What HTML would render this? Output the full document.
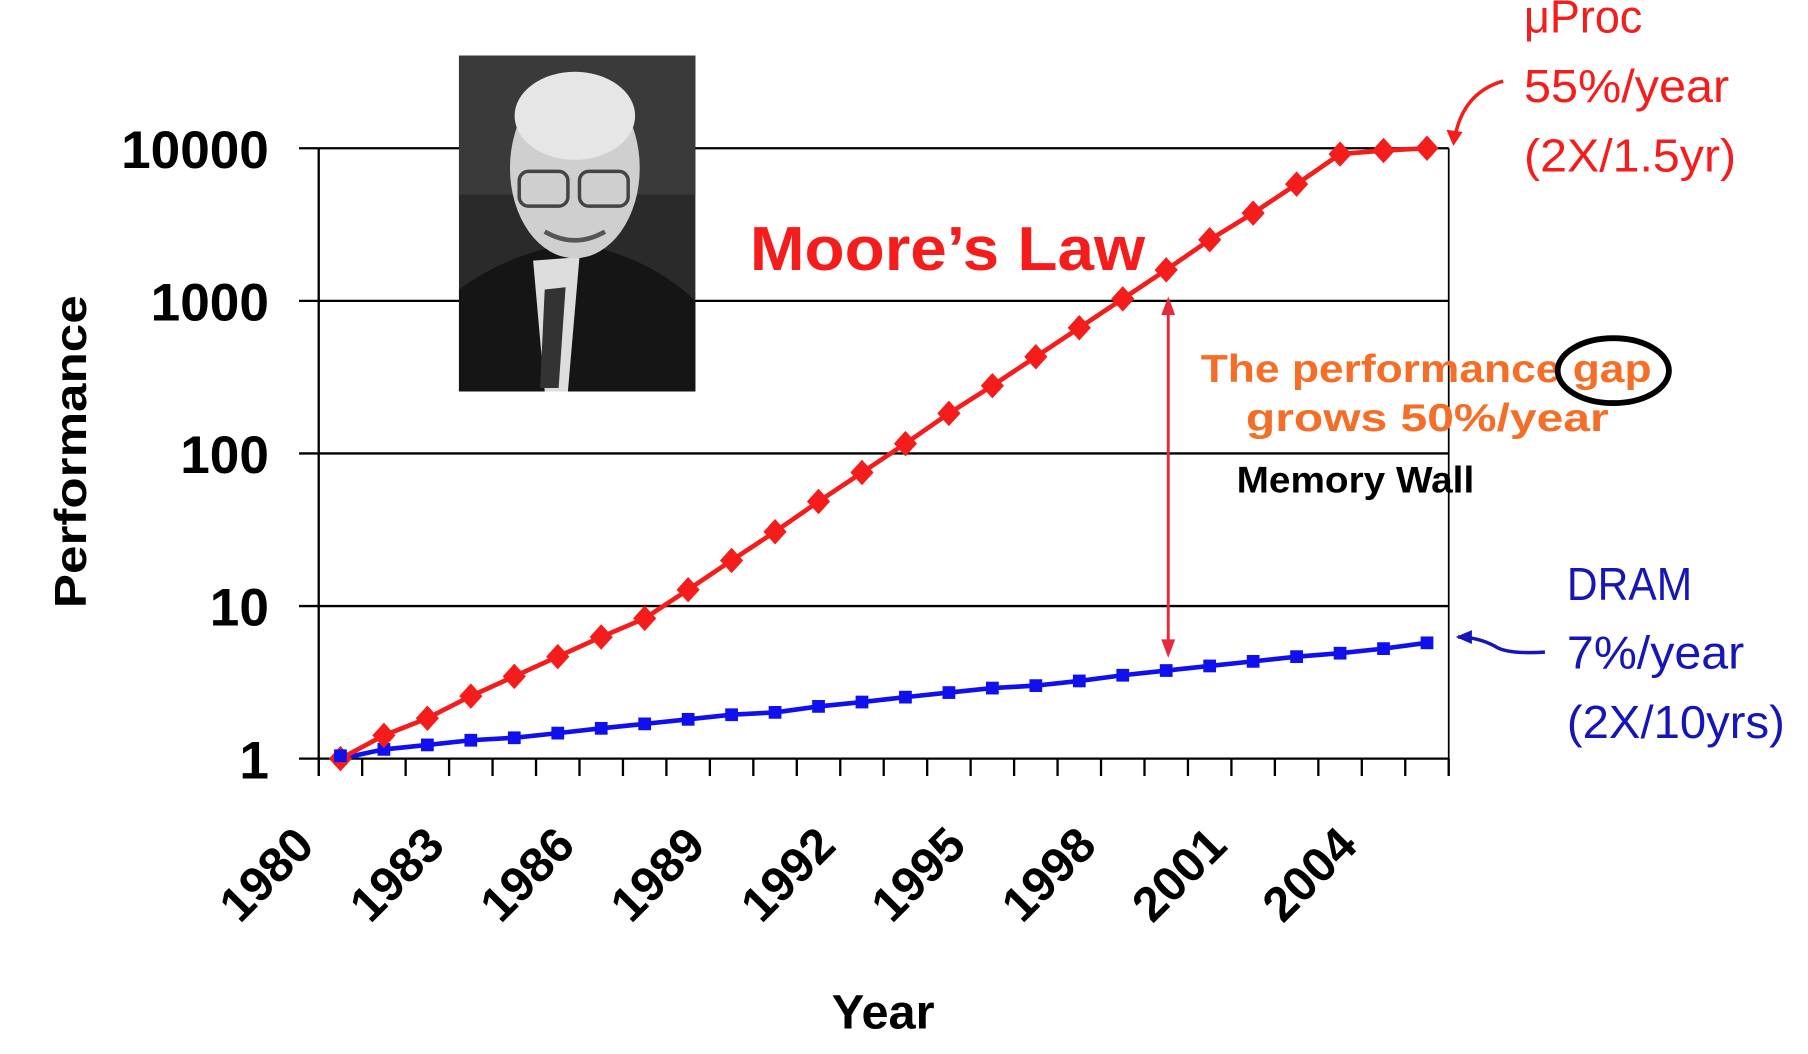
<!DOCTYPE html>
<html><head><meta charset="utf-8"><style>
html,body{margin:0;padding:0;background:#fff;}
svg{display:block;}
text{font-family:"Liberation Sans",sans-serif;}
</style></head><body>
<svg id="chart" width="1808" height="1054" viewBox="0 0 1560 910" preserveAspectRatio="none" xmlns="http://www.w3.org/2000/svg">
<g id="grid"></g>
<g id="photo">
  <rect x="396" y="48" width="204" height="290" fill="#2a2a2a"/>
  <rect x="396" y="48" width="204" height="120" fill="#3a3a3a"/>
  <path d="M396 338 L396 250 Q430 225 470 215 L520 215 Q570 230 600 260 L600 338 Z" fill="#151515"/>
  <path d="M460 225 L500 222 L490 338 L470 338 Z" fill="#ddd"/>
  <path d="M470 250 L488 248 L482 335 L466 335 Z" fill="#333"/>
  <ellipse cx="496" cy="145" rx="56" ry="78" fill="#cfcfcf"/>
  <ellipse cx="496" cy="100" rx="52" ry="38" fill="#e6e6e6"/>
  <rect x="448" y="148" width="42" height="30" rx="8" fill="none" stroke="#444" stroke-width="3"/>
  <rect x="500" y="148" width="42" height="30" rx="8" fill="none" stroke="#444" stroke-width="3"/>
  <path d="M470 200 Q496 215 522 200" fill="none" stroke="#555" stroke-width="4"/>
</g>
<g id="series"></g>
<g id="labels">
  <text x="647" y="233" font-size="54" font-weight="bold" fill="#f51c1c" textLength="341" lengthAdjust="spacingAndGlyphs">Moore’s Law</text>
  <text x="1315" y="28" font-size="40" fill="#f51c1c" textLength="102" lengthAdjust="spacingAndGlyphs">μProc</text>
  <text x="1315" y="88" font-size="40" fill="#f51c1c" textLength="177" lengthAdjust="spacingAndGlyphs">55%/year</text>
  <text x="1315" y="148" font-size="40" fill="#f51c1c" textLength="183" lengthAdjust="spacingAndGlyphs">(2X/1.5yr)</text>
  <text x="1352" y="518" font-size="40" fill="#1616b8" textLength="108" lengthAdjust="spacingAndGlyphs">DRAM</text>
  <text x="1352" y="577" font-size="40" fill="#1616b8" textLength="153" lengthAdjust="spacingAndGlyphs">7%/year</text>
  <text x="1352" y="637" font-size="40" fill="#1616b8" textLength="188" lengthAdjust="spacingAndGlyphs">(2X/10yrs)</text>
  <text x="1036" y="330" font-size="34" font-weight="bold" fill="#f46e28" textLength="389" lengthAdjust="spacingAndGlyphs">The performance gap</text>
  <text x="1075" y="372" font-size="34" font-weight="bold" fill="#f46e28" textLength="313" lengthAdjust="spacingAndGlyphs">grows 50%/year</text>
  <ellipse cx="1392" cy="320" rx="48" ry="28" fill="none" stroke="#000" stroke-width="5"/>
  <text x="1067" y="425" font-size="32" font-weight="bold" fill="#000" textLength="205" lengthAdjust="spacingAndGlyphs">Memory Wall</text>
  <text transform="translate(74,390) rotate(-90)" text-anchor="middle" font-size="38" font-weight="bold" textLength="270" lengthAdjust="spacingAndGlyphs">Performance</text>
  <text x="762" y="888" text-anchor="middle" font-size="42" font-weight="bold">Year</text>
  <line x1="1008" y1="262" x2="1008" y2="562" stroke="#e8283c" stroke-width="2.5"/>
  <path d="M1002 272 L1008 256 L1014 272 Z M1002 552 L1008 568 L1014 552 Z" fill="#e8283c"/>
  <path d="M1297 70 Q1262 80 1255 120" fill="none" stroke="#f51c1c" stroke-width="3"/>
  <path d="M1248 112 L1254 126 L1262 114 Z" fill="#f51c1c"/>
  <path d="M1333 563 Q1300 565 1290 558 Q1275 550 1258 550" fill="none" stroke="#1616b8" stroke-width="3"/>
  <path d="M1270 544 L1256 550 L1270 556 Z" fill="#1616b8"/>
</g>
</svg>
<script>
const years = [1980,1981,1982,1983,1984,1985,1986,1987,1988,1989,1990,1991,1992,1993,1994,1995,1996,1997,1998,1999,2000,2001,2002,2003,2004,2005];
const procValues = [1,1.42,1.84,2.57,3.46,4.66,6.27,8.3,12.8,19.9,30.7,48.4,75,116,183,278,430,666,1031,1596,2513,3758,5818,9160,9660,10000];
const dramValues = [1,1.15,1.23,1.32,1.37,1.47,1.58,1.69,1.81,1.94,2.01,2.2,2.35,2.53,2.71,2.9,3.01,3.23,3.52,3.78,4.05,4.34,4.66,4.91,5.26,5.74];
const yTicks = [1,10,100,1000,10000];
const xTickLabels = [1980,1983,1986,1989,1992,1995,1998,2001,2004];

const NS = "http://www.w3.org/2000/svg";
const L = 275, R = 1250, T = 128, B = 655;
const step = (R - L) / years.length;
function x(yr){ return L + (yr - years[0]) * step + step/2; }
function xTick(yr){ return L + (yr - years[0]) * step; }
function y(v){ return B - Math.log10(v) / 4 * (B - T); }
function mk(tag, attrs, parent){ const e = document.createElementNS(NS, tag); for (const k in attrs) e.setAttribute(k, attrs[k]); parent.appendChild(e); return e; }

const grid = document.getElementById('grid');
yTicks.forEach(v => {
  const ln = mk('line', {x1:258, x2:R, y1:y(v), y2:y(v), stroke:'#000', 'stroke-width':2}, grid);
  
  
  const s = String(v);
  const t = mk('text', {x:232, y:y(v)+17, 'text-anchor':'end', 'font-size':46, 'font-weight':'bold', textLength:s.length*25.5, lengthAdjust:'spacingAndGlyphs'}, grid);
  t.textContent = s;
  
  
});
const ax = mk('line', {x1:L, x2:L, y1:T, y2:670, stroke:'#000', 'stroke-width':2}, grid);


const rax = mk('line', {x1:R, x2:R, y1:T, y2:670, stroke:'#000', 'stroke-width':1.5}, grid);


for (let i = 0; i <= years.length; i++) {
  const tk = mk('line', {x1:L + i*step, x2:L + i*step, y1:B, y2:670, stroke:'#000', 'stroke-width':2}, grid);
  
  
}
xTickLabels.forEach(yr => {
  const tx = xTick(yr) - 2, ty = 732;
  const t = mk('text', {x:tx, y:ty, 'text-anchor':'end', 'font-size':42, 'font-weight':'bold', transform:`rotate(-45 ${tx} ${ty})`}, grid);
  t.textContent = yr;
  
  
});

const series = document.getElementById('series');
function drawSeries(vals, color, shape, name){
  const pts = vals.map((v,i) => x(years[i]) + ',' + y(v)).join(' ');
  const pl = mk('polyline', {points:pts, fill:'none', stroke:color, 'stroke-width':4}, series);
  
  
  vals.forEach((v,i) => {
    const cx = x(years[i]), cy = y(v);
    let m;
    if (shape === 'diamond') m = mk('path', {d:`M${cx} ${cy-11} L${cx+10} ${cy} L${cx} ${cy+11} L${cx-10} ${cy} Z`, fill:color}, series);
    else m = mk('rect', {x:cx-5.5, y:cy-5.5, width:11, height:11, fill:color}, series);
    
    
  });
}
drawSeries(dramValues, '#1010ee', 'square', 'dram');
drawSeries(procValues, '#f51c1c', 'diamond', 'uproc');
const firstDram = mk('rect', {x:x(years[0])-5.5, y:y(dramValues[0])-8, width:11, height:11, fill:'#1010ee'}, series);


</script>
</body></html>
